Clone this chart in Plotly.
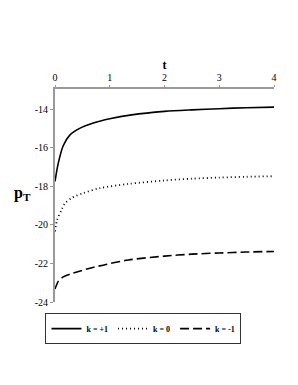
import plotly.graph_objects as go

# k = +1 (solid)
t_p1 = [0, 0.06, 0.15, 0.27, 0.45, 0.70, 1.0, 1.4, 2.0, 2.5, 3.0, 3.5, 4.0]
p_p1 = [-17.75, -16.8, -15.9, -15.35, -15.0, -14.72, -14.5, -14.3, -14.12, -14.04, -13.98, -13.93, -13.9]

# k = 0 (dotted)
t_0 = [0, 0.04, 0.12, 0.18, 0.31, 0.52, 0.82, 1.34, 2.0, 2.5, 3.0, 3.5, 4.0]
p_0 = [-20.34, -19.74, -19.22, -18.9, -18.6, -18.35, -18.1, -17.88, -17.7, -17.61, -17.55, -17.51, -17.48]

# k = -1 (dashed)
t_m1 = [0, 0.06, 0.15, 0.33, 0.64, 0.95, 1.34, 2.0, 2.5, 3.0, 3.5, 4.0]
p_m1 = [-23.33, -22.93, -22.7, -22.5, -22.25, -22.04, -21.82, -21.62, -21.52, -21.46, -21.41, -21.38]

x_ticks = [0, 1, 2, 3, 4]
y_ticks = [-14, -16, -18, -20, -22, -24]

font_family = "Liberation Serif, Times New Roman, serif"

fig = go.Figure()
fig.add_trace(go.Scatter(x=t_p1, y=p_p1, mode="lines", name="k = +1",
                         line=dict(color="black", width=1.6, shape="spline", smoothing=0.8, dash="solid")))
fig.add_trace(go.Scatter(x=t_0, y=p_0, mode="lines", name="k = 0",
                         line=dict(color="black", width=1.8, shape="spline", smoothing=0.8, dash="1px,3px")))
fig.add_trace(go.Scatter(x=t_m1, y=p_m1, mode="lines", name="k = -1",
                         line=dict(color="black", width=1.6, shape="spline", smoothing=0.8, dash="9px,4px")))

fig.update_layout(
    width=290, height=377,
    margin=dict(l=47, r=24, t=81, b=83),
    paper_bgcolor="white", plot_bgcolor="white",
    font=dict(family=font_family, size=10, color="black"),
    showlegend=True,
    legend=dict(
        orientation="h", x=0.404, xanchor="center", y=-0.052, yanchor="top",
        bordercolor="#333", borderwidth=1, bgcolor="white",
        font=dict(family=font_family, size=8, color="#000000", weight="bold"),
        itemwidth=30, tracegroupgap=0,
    ),
    xaxis=dict(
        side="top", range=[0, 4], tickvals=x_ticks, ticktext=[str(v) for v in x_ticks],
        showgrid=False, zeroline=False, showline=True, linecolor="#999", linewidth=2,
        ticks="outside", ticklen=2, tickcolor="#999",
        title=dict(text="<b>t</b>", font=dict(size=12, family=font_family, color="#000000"), standoff=0),
        tickfont=dict(size=10, family=font_family, color="#000000"),
    ),
    yaxis=dict(
        range=[-24, -12.96], tickvals=y_ticks, ticktext=[str(v) for v in y_ticks],
        showgrid=False, zeroline=False, showline=True, linecolor="#999", linewidth=2,
        ticks="outside", ticklen=3, tickcolor="#999",
        tickfont=dict(size=10, family=font_family, color="#000000"),
        title=None,
    ),
)

fig.add_annotation(text="<b>p<sub>T</sub></b>", xref="paper", yref="paper",
                   x=-0.10, y=0.51, xanchor="right", yanchor="middle", showarrow=False,
                   font=dict(size=16, family=font_family, color="#000000"))

fig.write_html("out.html")
